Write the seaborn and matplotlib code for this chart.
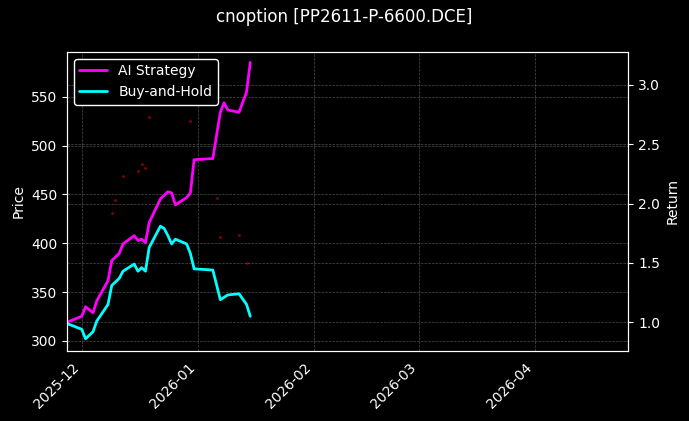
import numpy as np
import pandas as pd
import matplotlib
matplotlib.use('Agg')
import matplotlib.pyplot as plt
import matplotlib.dates as mdates
import seaborn as sns

plt.style.use('dark_background')
sns.set_style('dark', {'axes.facecolor': 'black', 'figure.facecolor': 'black'})
plt.style.use('dark_background')

dates = pd.to_datetime([
    '2025-11-27', '2025-12-01', '2025-12-02', '2025-12-04', '2025-12-05', '2025-12-08',
    '2025-12-09', '2025-12-11', '2025-12-12', '2025-12-15', '2025-12-16', '2025-12-17',
    '2025-12-18', '2025-12-19', '2025-12-22', '2025-12-23', '2025-12-24', '2025-12-25',
    '2025-12-26', '2025-12-29', '2025-12-30', '2025-12-31', '2026-01-05', '2026-01-07',
    '2026-01-08', '2026-01-09', '2026-01-12', '2026-01-14', '2026-01-15'])
ai_ret = [1.00, 1.05, 1.13, 1.08, 1.18, 1.35, 1.52, 1.58, 1.66, 1.73, 1.69, 1.70,
          1.67, 1.84, 2.04, 2.07, 2.10, 2.09, 1.99, 2.05, 2.09, 2.37, 2.38, 2.77,
          2.85, 2.79, 2.77, 2.94, 3.19]
bh_ret = [0.99, 0.94, 0.86, 0.92, 1.01, 1.15, 1.31, 1.37, 1.43, 1.49, 1.43, 1.46,
          1.43, 1.63, 1.81, 1.79, 1.73, 1.66, 1.70, 1.66, 1.58, 1.45, 1.44, 1.19,
          1.21, 1.23, 1.24, 1.15, 1.05]

price_dates = pd.to_datetime([
    '2025-12-09', '2025-12-10', '2025-12-12', '2025-12-16', '2025-12-17', '2025-12-18',
    '2025-12-19', '2025-12-30', '2026-01-06', '2026-01-07', '2026-01-12', '2026-01-14'])
price = [431, 444, 469, 474, 481, 477, 529, 525, 446, 406, 408, 380]

fig, ax = plt.subplots(figsize=(6.89, 4.21), dpi=100)
fig.patch.set_facecolor('black')
ax.set_facecolor('black')
ax.scatter(price_dates, price, s=1, color='#8b0000', zorder=1)
ax.set_ylim(290, 596)
ax.set_ylabel('Price')
ax.grid(True, color='gray', linestyle='--', linewidth=0.5, alpha=0.6)

ax2 = ax.twinx()
df = pd.DataFrame({'date': dates, 'AI Strategy': ai_ret, 'Buy-and-Hold': bh_ret})
sns.lineplot(data=df, x='date', y='AI Strategy', ax=ax2, color='#ff00ff', lw=2, label='AI Strategy')
sns.lineplot(data=df, x='date', y='Buy-and-Hold', ax=ax2, color='#00ffff', lw=2, label='Buy-and-Hold')
ax2.set_ylim(0.76, 3.28)
ax2.set_ylabel('Return')
ax2.grid(True, color='gray', linestyle='--', linewidth=0.5, alpha=0.6)
ax2.legend(loc='upper left', facecolor='black', edgecolor='white', framealpha=1)

ax.set_xlim(pd.Timestamp('2025-11-27'), pd.Timestamp('2026-04-26'))
ax.xaxis.set_major_locator(mdates.MonthLocator())
ax.xaxis.set_major_formatter(mdates.DateFormatter('%Y-%m'))
ax.set_xlabel('')
ax2.set_xlabel('')
plt.setp(ax.get_xticklabels(), rotation=45, ha='right')
for a in (ax, ax2):
    for s in a.spines.values():
        s.set_color('white')

fig.suptitle('cnoption [PP2611-P-6600.DCE]')
fig.subplots_adjust(left=0.097, right=0.912, top=0.877, bottom=0.167)
fig.savefig('out.png', dpi=100, facecolor='black')
